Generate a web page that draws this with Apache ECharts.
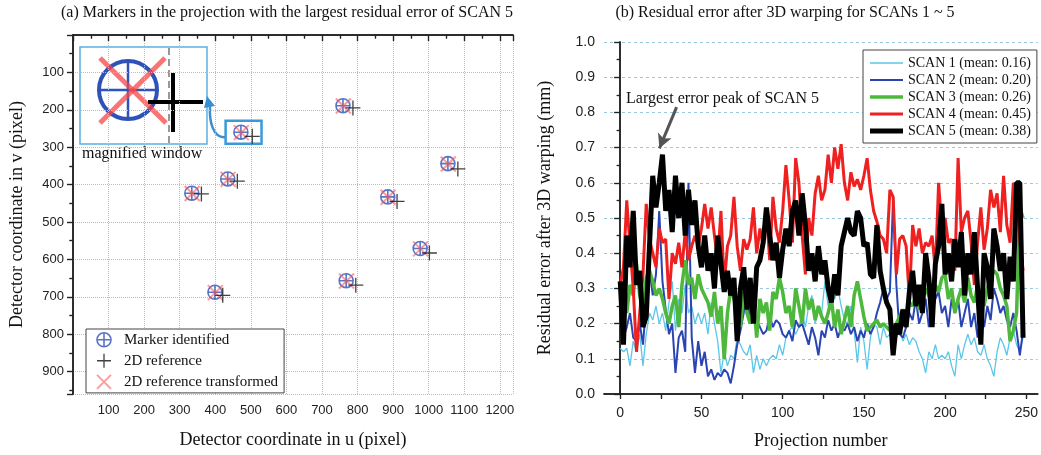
<!DOCTYPE html>
<html>
<head>
<meta charset="utf-8">
<script src="https://cdn.jsdelivr.net/npm/echarts@6/dist/echarts.min.js"></script>
<style>html,body{margin:0;padding:0;background:#fff;}#c{width:1041px;height:455px;}</style>
</head>
<body>
<div id="c"></div>
<script>
// ---------- Panel (a) data ----------
const markerU = [472, 759, 1054, 435, 334, 885, 976, 768, 399];
const markerV = [260, 189, 344, 385, 423, 433, 571, 657, 688];
const refU = [504, 787, 1082, 462, 361, 911, 1002, 795, 421];
const refV = [271, 195, 358, 391, 425, 445, 583, 669, 696];
const transU = [473, 760, 1055, 436, 335, 886, 977, 769, 400];
const transV = [261, 190, 345, 386, 424, 434, 572, 658, 689];
const uTickLabels = [100, 200, 300, 400, 500, 600, 700, 800, 900, 1000, 1100, 1200];
const vTickLabels = [100, 200, 300, 400, 500, 600, 700, 800, 900];
const zoomBox = [[429, 229], [530, 291]];

// ---------- Panel (b) data ----------
const projection = [0,2,4,6,8,10,12,14,16,18,20,22,24,26,28,30,32,34,36,38,40,42,44,46,48,50,52,54,56,58,60,62,64,66,68,70,72,74,76,78,80,82,84,86,88,90,92,94,96,98,100,102,104,106,108,110,112,114,116,118,120,122,124,126,128,130,132,134,136,138,140,142,144,146,148,150,152,154,156,158,160,162,164,166,168,170,172,174,176,178,180,182,184,186,188,190,192,194,196,198,200,202,204,206,208,210,212,214,216,218,220,222,224,226,228,230,232,234,236,238,240,242,244,246,248];
const scan1 = [0.13,0.12,0.13,0.08,0.15,0.12,0.17,0.08,0.17,0.23,
0.21,0.25,0.2,0.23,0.18,0.26,0.32,0.18,0.27,0.23,
0.31,0.23,0.25,0.2,0.23,0.2,0.23,0.17,0.26,0.2,
0.15,0.06,0.12,0.08,0.11,0.1,0.16,0.14,0.12,0.11,
0.14,0.06,0.11,0.07,0.1,0.08,0.1,0.11,0.1,0.14,
0.11,0.16,0.18,0.19,0.17,0.19,0.23,0.19,0.25,0.28,
0.2,0.24,0.23,0.32,0.25,0.29,0.27,0.3,0.25,0.21,
0.2,0.25,0.18,0.09,0.19,0.15,0.07,0.16,0.2,0.19,
0.14,0.19,0.16,0.17,0.14,0.16,0.19,0.15,0.17,0.14,
0.16,0.15,0.12,0.1,0.06,0.12,0.1,0.14,0.1,0.11,
0.1,0.12,0.08,0.05,0.14,0.1,0.14,0.17,0.14,0.16,
0.12,0.11,0.14,0.1,0.08,0.05,0.12,0.16,0.14,0.11,
0.16,0.18,0.14,0.12,0.16];
const scan2 = [0.2,0.16,0.19,0.23,0.16,0.15,0.2,0.14,0.26,0.36,
0.28,0.34,0.52,0.32,0.24,0.17,0.2,0.06,0.16,0.18,
0.12,0.6,0.16,0.06,0.15,0.08,0.12,0.05,0.07,0.04,
0.06,0.05,0.07,0.06,0.03,0.08,0.14,0.18,0.23,0.3,
0.2,0.23,0.21,0.19,0.17,0.18,0.22,0.19,0.21,0.2,
0.17,0.16,0.18,0.15,0.21,0.19,0.2,0.17,0.14,0.19,
0.16,0.11,0.18,0.16,0.21,0.18,0.2,0.16,0.19,0.18,
0.2,0.17,0.19,0.15,0.18,0.16,0.2,0.17,0.19,0.23,
0.26,0.3,0.27,0.29,0.56,0.31,0.17,0.16,0.19,0.23,
0.21,0.27,0.2,0.23,0.27,0.19,0.23,0.27,0.29,0.23,
0.25,0.19,0.27,0.23,0.27,0.19,0.23,0.27,0.19,0.23,
0.16,0.23,0.19,0.25,0.21,0.3,0.27,0.23,0.25,0.21,
0.19,0.23,0.18,0.11,0.18];
const scan3 = [0.27,0.25,0.23,0.31,0.28,0.37,0.28,0.24,0.33,0.35,
0.32,0.28,0.3,0.27,0.23,0.2,0.25,0.28,0.19,0.31,
0.38,0.31,0.33,0.27,0.34,0.3,0.28,0.26,0.22,0.29,
0.2,0.25,0.1,0.23,0.3,0.27,0.23,0.19,0.29,0.23,
0.2,0.27,0.16,0.27,0.23,0.26,0.18,0.29,0.27,0.33,
0.29,0.23,0.25,0.19,0.3,0.25,0.2,0.3,0.24,0.27,
0.21,0.25,0.22,0.2,0.23,0.27,0.19,0.24,0.17,0.21,
0.25,0.19,0.28,0.32,0.27,0.22,0.18,0.19,0.2,0.21,
0.19,0.2,0.19,0.18,0.19,0.2,0.22,0.24,0.22,0.26,
0.25,0.28,0.24,0.27,0.3,0.28,0.26,0.31,0.29,0.33,
0.34,0.27,0.3,0.23,0.27,0.3,0.26,0.33,0.28,0.26,
0.31,0.28,0.25,0.3,0.33,0.35,0.34,0.3,0.28,0.25,
0.15,0.18,0.23,0.53,0.5];
const scan4 = [0.31,0.36,0.55,0.42,0.3,0.12,0.23,0.34,0.54,0.44,
0.4,0.36,0.47,0.43,0.44,0.27,0.4,0.37,0.43,0.36,
0.46,0.38,0.42,0.45,0.42,0.47,0.54,0.47,0.53,0.45,
0.38,0.52,0.31,0.42,0.45,0.56,0.42,0.35,0.44,0.41,
0.44,0.53,0.4,0.47,0.42,0.52,0.38,0.56,0.47,0.43,
0.52,0.65,0.55,0.43,0.67,0.6,0.45,0.34,0.5,0.45,
0.57,0.62,0.55,0.58,0.68,0.6,0.7,0.64,0.71,0.6,
0.55,0.63,0.59,0.61,0.58,0.62,0.67,0.58,0.52,0.49,
0.45,0.44,0.4,0.58,0.56,0.34,0.44,0.45,0.42,0.27,
0.48,0.42,0.47,0.4,0.43,0.42,0.45,0.35,0.6,0.47,
0.5,0.43,0.44,0.35,0.67,0.46,0.5,0.52,0.43,0.31,
0.43,0.53,0.41,0.47,0.58,0.53,0.57,0.46,0.62,0.48,
0.43,0.6,0.57,0.44,0.35];
const scan5 = [0.32,0.14,0.45,0.36,0.52,0.31,0.35,0.19,0.22,0.42,
0.62,0.53,0.6,0.68,0.52,0.58,0.46,0.62,0.5,0.6,
0.45,0.58,0.48,0.55,0.42,0.36,0.45,0.35,0.4,0.3,
0.45,0.37,0.29,0.35,0.28,0.33,0.15,0.3,0.36,0.24,
0.33,0.2,0.36,0.38,0.43,0.53,0.45,0.38,0.43,0.33,
0.41,0.47,0.42,0.52,0.55,0.45,0.57,0.48,0.35,0.4,
0.32,0.42,0.34,0.38,0.3,0.26,0.34,0.28,0.42,0.46,
0.5,0.46,0.45,0.52,0.5,0.42,0.43,0.34,0.33,0.48,
0.35,0.3,0.26,0.24,0.11,0.2,0.17,0.24,0.19,0.29,
0.35,0.25,0.31,0.23,0.4,0.33,0.19,0.37,0.42,0.54,
0.34,0.4,0.32,0.44,0.36,0.46,0.28,0.4,0.34,0.46,
0.3,0.14,0.4,0.36,0.27,0.47,0.42,0.35,0.4,0.27,
0.39,0.32,0.6,0.6,0.16];
const scanNames = ['SCAN 1 (mean: 0.16)','SCAN 2 (mean: 0.20)','SCAN 3 (mean: 0.26)','SCAN 4 (mean: 0.45)','SCAN 5 (mean: 0.38)'];
const projLabels = [0, 50, 100, 150, 200, 250];
const projTicks = [0, 25, 50, 75, 100, 125, 150, 175, 200, 225, 250];
const peakArrow = [[34.7, 0.815], [24.1, 0.698]];
const peakTextAt = [63, 0.838];

// ---------- styling ----------
const SERIF = 'Liberation Serif';
const SANS = 'Liberation Sans';
const AX = '#222';
const circlePath = 'path://M10,0A10,10,0,1,1,-10,0A10,10,0,1,1,10,0ZM-10,0L10,0M0,-10L0,10';
const plusPath = 'path://M-10,0L10,0M0,-10L0,10';
const xPath = 'path://M-10,-10L10,10M-10,10L10,-10';
const blueM = '#2f52b8';
const redX = 'rgba(248,80,80,0.7)';
const lineColors = ['#5cc6e8', '#2a44b2', '#4db83c', '#ee2020', '#000000'];
const lineWidths = [1.3, 2, 3.5, 3, 5];
const scans = [scan1, scan2, scan3, scan4, scan5];

function zip(a, b) { return a.map((v, i) => [v, b[i]]); }
function barIcon(w) { return 'path://M0,0L33,0L33,' + w + 'L0,' + w + 'Z'; }

const chart = echarts.init(document.getElementById('c'));

const axisLineStyle = { show: true, lineStyle: { color: AX, width: 1.5 } };

const lineSeries = scans.map((s, i) => ({
  name: scanNames[i],
  type: 'line',
  xAxisIndex: 2, yAxisIndex: 2,
  data: zip(projection, s),
  symbol: 'none', showSymbol: false,
  lineStyle: { color: lineColors[i], width: lineWidths[i] },
  itemStyle: { color: lineColors[i] },
  z: 2 + i
}));
lineSeries[4].markLine = {
  silent: true, symbol: ['none', 'arrow'], symbolSize: [11, 14],
  lineStyle: { color: '#555', width: 3, type: 'solid' },
  label: { show: false },
  data: [[{ coord: peakArrow[0] }, { coord: peakArrow[1] }]]
};
lineSeries[4].markPoint = {
  silent: true, symbol: 'circle', symbolSize: 0,
  label: { show: true, position: 'inside', formatter: 'Largest error peak of SCAN 5', color: '#111', fontFamily: SERIF, fontSize: 16 },
  data: [{ coord: peakTextAt }]
};

const option = {
  animation: false,
  textStyle: { fontFamily: SANS },
  title: [
    { text: '(a) Markers in the projection with the largest residual error of SCAN 5', left: 287, top: 5, padding: 0, textAlign: 'center',
      textStyle: { fontFamily: SERIF, fontSize: 16, fontWeight: 'normal', color: '#111' } },
    { text: '(b) Residual error after 3D warping for SCANs 1 ~ 5', left: 785, top: 5, padding: 0, textAlign: 'center',
      textStyle: { fontFamily: SERIF, fontSize: 16, fontWeight: 'normal', color: '#111' } }
  ],
  grid: [
    { left: 73, top: 35, width: 440, height: 359 },
    { left: 604, top: 42, width: 436, height: 357 }
  ],
  legend: [
    { orient: 'vertical', left: 86, top: 329, padding: [3, 6, 3, 10], itemGap: 5.5, itemWidth: 30, itemHeight: 14,
      backgroundColor: '#fff', borderColor: '#444', borderWidth: 1, selectedMode: false,
      textStyle: { fontFamily: SERIF, fontSize: 15, color: '#111' },
      data: [
        { name: 'Marker identified', icon: circlePath, itemStyle: { color: 'rgba(0,0,0,0)', borderColor: blueM, borderWidth: 1.6 } },
        { name: '2D reference', icon: plusPath, itemStyle: { color: 'rgba(0,0,0,0)', borderColor: '#111', borderWidth: 1.3 } },
        { name: '2D reference transformed', icon: xPath, itemStyle: { color: 'rgba(0,0,0,0)', borderColor: redX, borderWidth: 2 } }
      ] },
    { orient: 'vertical', left: 863, top: 50, padding: [6, 6, 5, 7], itemGap: 3, itemWidth: 33, itemHeight: 14,
      backgroundColor: '#fff', borderColor: '#444', borderWidth: 1, selectedMode: false,
      textStyle: { fontFamily: SERIF, fontSize: 14, color: '#111' },
      data: scanNames.map((n, i) => ({ name: n, icon: barIcon(lineWidths[i]),
        itemStyle: { color: lineColors[i], borderWidth: 0, opacity: 1 } }))
    }
  ],
  xAxis: [
    { gridIndex: 0, type: 'value', position: 'bottom', min: 0, max: 1237, interval: 100,
      axisLine: axisLineStyle, axisTick: { show: true, length: 6, lineStyle: { color: AX, width: 1.2 } },
      minorTick: { show: true, splitNumber: 2, length: 3.5, lineStyle: { color: AX, width: 1.2 } },
      axisLabel: { margin: 10, color: '#222', fontSize: 13, showMinLabel: false, showMaxLabel: false,
        formatter: v => (uTickLabels.indexOf(v) >= 0 ? String(v) : '') },
      splitLine: { show: true, lineStyle: { color: '#8ccbe0', type: 'dotted', width: 1 } },
      name: 'Detector coordinate in u (pixel)', nameLocation: 'middle', nameGap: 37,
      nameTextStyle: { fontFamily: SERIF, fontSize: 18, color: '#111' } },
    { gridIndex: 0, type: 'value', position: 'top', min: 0, max: 1237, interval: 100,
      axisLine: axisLineStyle, axisTick: { show: true, inside: true, length: 6, lineStyle: { color: AX, width: 1.2 } },
      minorTick: { show: true, splitNumber: 2, length: 3.5, lineStyle: { color: AX, width: 1.2 } },
      axisLabel: { show: false }, splitLine: { show: false } },
    { gridIndex: 1, type: 'value', position: 'bottom', min: -10, max: 257,
      axisLine: axisLineStyle,
      axisTick: { show: true, length: 5, customValues: projTicks, lineStyle: { color: AX, width: 1.2 } },
      axisLabel: { margin: 12, color: '#222', fontSize: 14, customValues: projLabels },
      splitLine: { show: false },
      name: 'Projection number', nameLocation: 'middle', nameGap: 38,
      nameTextStyle: { fontFamily: SERIF, fontSize: 18, color: '#111' } },
    { gridIndex: 1, type: 'value', position: 'top', min: -10, max: 257,
      axisLine: axisLineStyle,
      axisTick: { show: true, inside: true, length: 5, customValues: projTicks, lineStyle: { color: AX, width: 1.2 } },
      axisLabel: { show: false }, splitLine: { show: false } }
  ],
  yAxis: [
    { gridIndex: 0, type: 'value', position: 'left', inverse: true, min: 0, max: 960, interval: 100,
      axisLine: axisLineStyle, axisTick: { show: true, length: 6, lineStyle: { color: AX, width: 1.2 } },
      minorTick: { show: true, splitNumber: 2, length: 3.5, lineStyle: { color: AX, width: 1.2 } },
      axisLabel: { margin: 9, color: '#222', fontSize: 13, showMinLabel: false, showMaxLabel: false,
        formatter: v => (vTickLabels.indexOf(v) >= 0 ? String(v) : '') },
      splitLine: { show: true, lineStyle: { color: '#8ccbe0', type: 'dotted', width: 1 } },
      name: 'Detector coordinate in v (pixel)', nameLocation: 'middle', nameGap: 47,
      nameTextStyle: { fontFamily: SERIF, fontSize: 18, color: '#111' } },
    { gridIndex: 0, type: 'value', position: 'right', inverse: true, min: 0, max: 960, interval: 100,
      axisLine: axisLineStyle, axisTick: { show: true, inside: true, length: 6, lineStyle: { color: AX, width: 1.2 } },
      minorTick: { show: true, splitNumber: 2, length: 3.5, lineStyle: { color: AX, width: 1.2 } },
      axisLabel: { show: false }, splitLine: { show: false } },
    { gridIndex: 1, type: 'value', position: 'left', min: 0, max: 1, interval: 0.1,
      axisLine: axisLineStyle, axisTick: { show: true, length: 6, lineStyle: { color: AX, width: 1.2 } },
      minorTick: { show: true, splitNumber: 2, length: 3.5, lineStyle: { color: AX, width: 1.2 } },
      axisLabel: { margin: 9, color: '#222', fontSize: 14, formatter: v => v.toFixed(1) },
      splitLine: { show: true, lineStyle: { color: '#98c8dc', type: [3, 3], width: 1 } },
      name: 'Residual error after 3D warping (mm)', nameLocation: 'middle', nameGap: 50,
      nameTextStyle: { fontFamily: SERIF, fontSize: 18, color: '#111' } },
    { gridIndex: 1, type: 'value', position: 'right', min: 0, max: 1, interval: 0.1,
      axisLine: axisLineStyle, axisTick: { show: true, inside: true, length: 6, lineStyle: { color: AX, width: 1.2 } },
      minorTick: { show: true, splitNumber: 2, length: 3.5, lineStyle: { color: AX, width: 1.2 } },
      axisLabel: { show: false }, splitLine: { show: false } }
  ],
  series: [
    { name: 'Marker identified', type: 'scatter', xAxisIndex: 0, yAxisIndex: 0,
      data: zip(markerU, markerV), symbol: circlePath, symbolSize: 14,
      itemStyle: { color: 'rgba(0,0,0,0)', borderColor: blueM, borderWidth: 1.6 }, z: 3,
      markArea: { silent: true, itemStyle: { color: 'rgba(0,0,0,0)', borderColor: '#3a9ad9', borderWidth: 2.5 },
        data: [[{ coord: zoomBox[0] }, { coord: zoomBox[1] }]] } },
    { name: '2D reference transformed', type: 'scatter', xAxisIndex: 0, yAxisIndex: 0,
      data: zip(transU, transV), symbol: xPath, symbolSize: 15,
      itemStyle: { color: 'rgba(0,0,0,0)', borderColor: redX, borderWidth: 2 }, z: 4 },
    { name: '2D reference', type: 'scatter', xAxisIndex: 0, yAxisIndex: 0,
      data: zip(refU, refV), symbol: plusPath, symbolSize: 15,
      itemStyle: { color: 'rgba(0,0,0,0)', borderColor: '#111', borderWidth: 1.3 }, z: 5 }
  ].concat(lineSeries),
  graphic: [
    { type: 'group', z: 100, children: [
      { type: 'rect', shape: { x: 80, y: 47, width: 127, height: 97 }, style: { fill: '#fff', stroke: '#5ab0e0', lineWidth: 1.5 } },
      { type: 'line', shape: { x1: 169, y1: 48, x2: 169, y2: 143 }, style: { stroke: '#777', lineWidth: 1.5, lineDash: [7, 4] } },
      { type: 'circle', shape: { cx: 128, cy: 90, r: 29 }, style: { fill: 'none', stroke: blueM, lineWidth: 4 } },
      { type: 'line', shape: { x1: 99, y1: 90, x2: 157, y2: 90 }, style: { stroke: blueM, lineWidth: 2.5 } },
      { type: 'line', shape: { x1: 128, y1: 61, x2: 128, y2: 119 }, style: { stroke: blueM, lineWidth: 2.5 } },
      { type: 'line', shape: { x1: 100, y1: 58, x2: 166, y2: 123 }, style: { stroke: 'rgba(250,70,70,0.75)', lineWidth: 5 } },
      { type: 'line', shape: { x1: 100, y1: 123, x2: 165, y2: 58 }, style: { stroke: 'rgba(250,70,70,0.75)', lineWidth: 5 } },
      { type: 'line', shape: { x1: 148, y1: 102, x2: 203, y2: 102 }, style: { stroke: '#000', lineWidth: 4 } },
      { type: 'line', shape: { x1: 173, y1: 73, x2: 173, y2: 132 }, style: { stroke: '#000', lineWidth: 4 } },
      { type: 'text', x: 82, y: 154, style: { text: 'magnified window', fontFamily: SERIF, fontSize: 16, fill: '#111', verticalAlign: 'middle' } },
      { type: 'bezierCurve', shape: { x1: 226, y1: 137, cpx1: 213, cpy1: 139, cpx2: 209, cpy2: 121, x2: 210, y2: 106 },
        style: { stroke: '#3a8fd0', lineWidth: 2.5, fill: 'none' } },
      { type: 'polygon', shape: { points: [[207, 96], [204, 108], [215, 106]] }, style: { fill: '#3a8fd0' } }
    ] }
  ]
};
chart.setOption(option);
</script>
</body>
</html>
